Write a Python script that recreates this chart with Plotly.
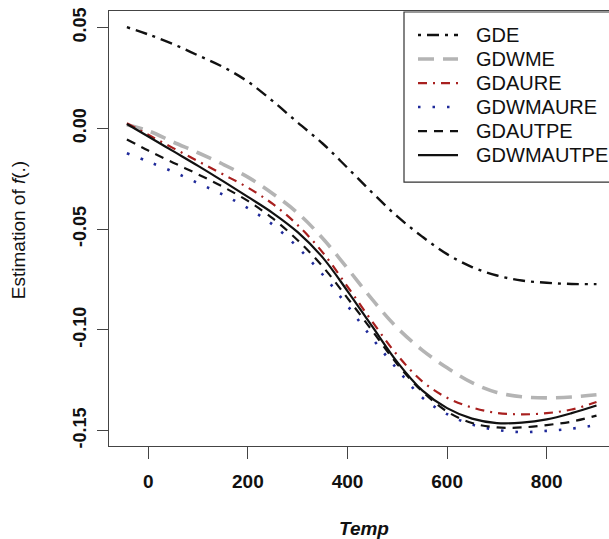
import plotly.graph_objects as go

# ---------------- data ----------------
temp = [-43, 0, 50, 100, 150, 200, 250, 300, 350, 400, 450, 500, 550, 600, 650, 700, 750, 800, 850, 900]

gde = [0.0502, 0.0466, 0.0418, 0.0362, 0.0305, 0.0232, 0.0135, 0.0029, -0.0075, -0.0196, -0.0320, -0.0437,
       -0.0537, -0.0624, -0.0688, -0.0730, -0.0755, -0.0766, -0.0772, -0.0773]
gdwme = [0.0018, -0.0012, -0.0068, -0.0121, -0.0178, -0.0242, -0.0324, -0.0420, -0.0545, -0.0695, -0.0850,
         -0.0990, -0.1100, -0.1188, -0.1262, -0.1310, -0.1332, -0.1337, -0.1333, -0.1322]
gdaure = [0.0025, -0.0032, -0.0098, -0.0163, -0.0228, -0.0294, -0.0375, -0.0480, -0.0615, -0.0785, -0.0960,
          -0.1125, -0.1255, -0.1337, -0.1385, -0.1412, -0.1419, -0.1413, -0.1395, -0.1358]
gdwmaure = [-0.0123, -0.0165, -0.0215, -0.0272, -0.0329, -0.0396, -0.0478, -0.0590, -0.0725, -0.0880, -0.1043,
            -0.1195, -0.1335, -0.1418, -0.1470, -0.1496, -0.1507, -0.1501, -0.1490, -0.1472]
gdautpe = [-0.0055, -0.0110, -0.0170, -0.0228, -0.0290, -0.0360, -0.0447, -0.0555, -0.0685, -0.0842, -0.1005,
           -0.1170, -0.1305, -0.1405, -0.1462, -0.1484, -0.1484, -0.1472, -0.1455, -0.1425]
gdwmautpe = [0.0022, -0.0040, -0.0113, -0.0186, -0.0262, -0.0340, -0.0420, -0.0515, -0.0640, -0.0807, -0.0984,
             -0.1160, -0.1300, -0.1388, -0.1440, -0.1462, -0.1460, -0.1444, -0.1413, -0.1375]

names = ["GDE", "GDWME", "GDAURE", "GDWMAURE", "GDAUTPE", "GDWMAUTPE"]
series = [gde, gdwme, gdaure, gdwmaure, gdautpe, gdwmautpe]

x_ticks = [0, 200, 400, 600, 800]
y_ticks = [0.05, 0.00, -0.05, -0.10, -0.15]
y_tick_text = ["0.05", "0.00", "-0.05", "-0.10", "-0.15"]

# ---------------- styles ----------------
colors = ["#111111", "#b4b4b4", "#a8201f", "#1f2a9a", "#111111", "#111111"]
widths = [2.4, 3.6, 2.2, 2.6, 2.2, 2.2]
dashes = ["3px,6px,12px,6px", "16px,9px", "9px,6px,2px,6px", "2.5px,12px", "9px,7px", "solid"]

fig = go.Figure()
for name, ys, c, w, d in zip(names, series, colors, widths, dashes):
    fig.add_trace(go.Scatter(x=temp, y=ys, mode="lines", name=name,
                             line=dict(color=c, width=w, dash=d, shape="spline", smoothing=1.0),
                             showlegend=False))

# plot area in pixels
L, R, T, B = 109, 609, 11, 445.7
W, H = 609, 539
pw, ph = R - L, B - T

def px(xp):
    return (xp - L) / pw

def py(yp):
    return (B - yp) / ph

font_fam = "Liberation Sans, Arial, sans-serif"

# manual legend
shapes = []
annotations = []
shapes.append(dict(type="rect", xref="paper", yref="paper",
                   x0=px(404), x1=px(640), y0=py(182), y1=py(12),
                   line=dict(color="#333333", width=1.2), fillcolor="white", layer="above"))
leg_y = [35, 59, 83, 107, 131, 155]
for name, c, w, d, yy in zip(names, colors, widths, dashes, leg_y):
    shapes.append(dict(type="line", xref="paper", yref="paper",
                       x0=px(418), x1=px(458), y0=py(yy), y1=py(yy),
                       line=dict(color=c, width=w, dash=d), layer="above"))
    annotations.append(dict(text=name, xref="paper", yref="paper", x=px(474), y=py(yy),
                            xanchor="left", yanchor="middle", showarrow=False,
                            font=dict(family=font_fam, size=20, color="#111111")))

annotations.append(dict(text="Estimation of <i>f</i>(.)", xref="paper", yref="paper",
                        x=px(18), y=py(230), xanchor="center", yanchor="middle",
                        textangle=-90, showarrow=False,
                        font=dict(family=font_fam, size=19, color="#111111")))
annotations.append(dict(text="<b><i>Temp</i></b>", xref="paper", yref="paper",
                        x=px(364), y=py(528), xanchor="center", yanchor="middle",
                        showarrow=False,
                        font=dict(family=font_fam, size=19, color="#111111")))

x0 = 0 - (148.3 - L) / 0.498
x1 = 0 + (R - 148.3) / 0.498
ys_px = 100.7 / 0.05
y_top = 0.0 + (128.3 - T) / ys_px
y_bot = 0.0 - (B - 128.3) / ys_px

fig.update_layout(
    width=W, height=H,
    margin=dict(l=L, r=W - R, t=T, b=H - B, autoexpand=False),
    paper_bgcolor="white", plot_bgcolor="white",
    font=dict(family=font_fam, color="#111111"),
    shapes=shapes, annotations=annotations,
    showlegend=False,
)
fig.update_xaxes(range=[x0, x1], tickvals=x_ticks, ticktext=[str(v) for v in x_ticks],
                 showgrid=False, zeroline=False, showline=True, linecolor="#444444", linewidth=1.3,
                 mirror=True, ticks="outside", ticklen=12, tickwidth=1.3, tickcolor="#444444",
                 tickfont=dict(family=font_fam, size=19, color="#111111", weight="bold"),
                 ticklabelstandoff=6)
fig.update_yaxes(range=[y_bot, y_top], tickvals=y_ticks, ticktext=y_tick_text,
                 showgrid=False, zeroline=False, showline=True, linecolor="#444444", linewidth=1.3,
                 mirror=False, ticks="outside", ticklen=11, tickwidth=1.3, tickcolor="#444444",
                 tickangle=-90,
                 tickfont=dict(family=font_fam, size=18, color="#111111", weight="bold"),
                 ticklabelstandoff=4)

fig.write_html("out.html", config={"displayModeBar": False},
               post_script="document.body.style.margin='0';document.body.style.padding='0';")
